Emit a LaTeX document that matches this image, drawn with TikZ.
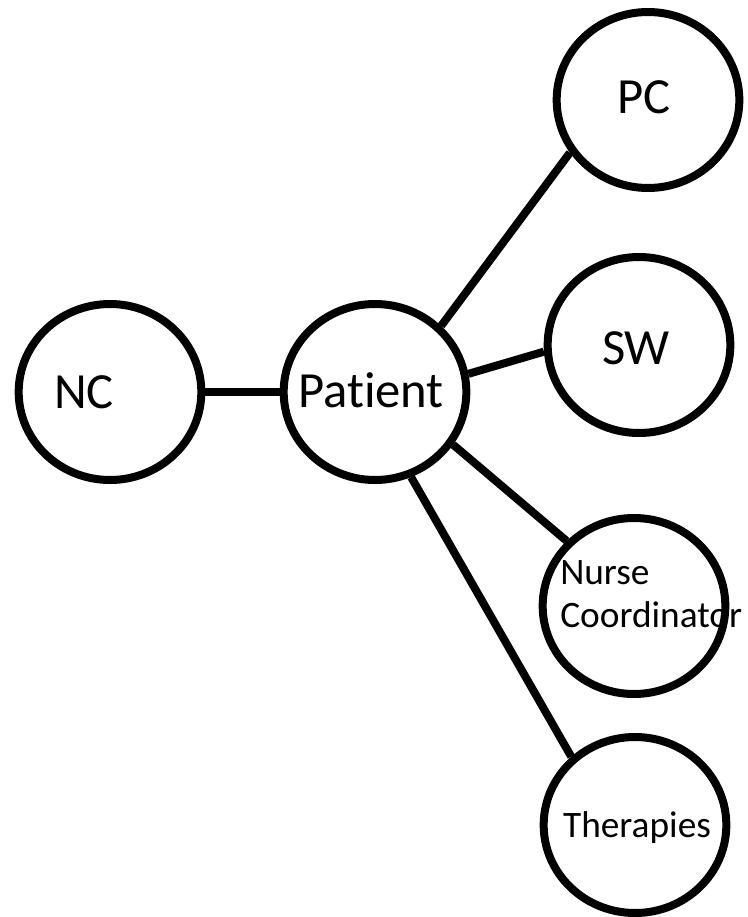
\documentclass[tikz,border=0pt]{standalone}
\usepackage{fontspec}
\setmainfont{Carlito}[Ligatures=NoCommon]
\usetikzlibrary{shapes.geometric}

\tikzset{
  bubble/.style={draw, ellipse, line width=6pt, minimum width=137pt, minimum height=132pt, inner sep=0pt},
  link/.style={line width=6pt},
  bigtext/.style={font=\fontsize{38}{44}\selectfont, inner sep=0pt},
  smalltext/.style={font=\fontsize{28}{32}\selectfont, inner sep=0pt}
}

\begin{document}
\begin{tikzpicture}[x=0.75pt,y=0.75pt,yscale=-1]
    \useasboundingbox (0,0) rectangle (748,917);

    %Shape: Ellipse
    \node [bubble] (nc) at (110,392) {};
    %Shape: Ellipse
    \node [bubble] (pat) at (375,392) {};
    %Shape: Ellipse
    \node [bubble] (pc) at (648,100) {};
    %Shape: Ellipse
    \node [bubble] (sw) at (639,345) {};
    %Shape: Ellipse
    \node [bubble] (nurse) at (634,606) {};
    %Shape: Ellipse
    \node [bubble] (ther) at (635,825) {};

    %Straight Lines
    \draw [link] (nc) -- (pat) ;
    %Straight Lines
    \draw [link] (pat.45) -- (pc.214) ;
    %Straight Lines
    \draw [link] (pat.11) -- (sw.184) ;
    %Straight Lines
    \draw [link] (pat.326) -- (nurse.136) ;
    %Straight Lines
    \draw [link] (pat.293) -- (ther.133) ;

    % Text Node
    \node [bigtext] (nctext) at (84,392) {NC};
    % Text Node
    \node [bigtext] (pattext) at (371,390) {Patient};
    % Text Node
    \node [bigtext] (pctext) at (644,97) {PC};
    % Text Node
    \node [bigtext] (swtext) at (636,348) {SW};
    % Text Node
    \node [smalltext, anchor=west, align=left] (nursetext) at (560,594) {Nurse\\Coordinator};
    % Text Node
    \node [smalltext] (thertext) at (637,828) {Therapies};

\end{tikzpicture}
\end{document}
